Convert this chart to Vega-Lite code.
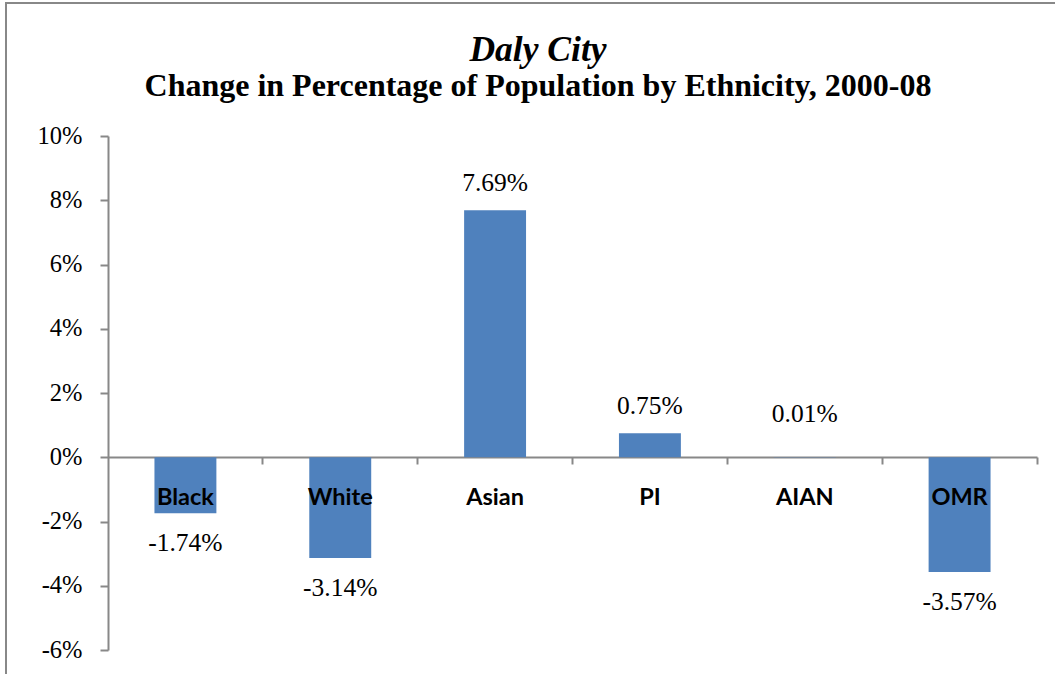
{
  "$schema": "https://vega.github.io/schema/vega-lite/v6.json",
  "width": 1060,
  "height": 680,
  "autosize": {"type": "none"},
  "padding": {"left": 6, "top": 3, "right": 0, "bottom": 0},
  "background": "white",
  "config": {
    "font": "Liberation Serif",
    "view": {"stroke": "#888888", "strokeWidth": 2},
    "locale": {"number": {"decimal": ".", "thousands": ",", "grouping": [3], "currency": ["$", ""], "minus": "-"}}
  },
  "title": {
    "text": "Daly City",
    "subtitle": "Change in Percentage of Population by Ethnicity, 2000-08",
    "anchor": "start",
    "frame": "group",
    "offset": -99,
    "dx": 532,
    "align": "center",
    "font": "Liberation Serif",
    "fontSize": 35.5,
    "fontStyle": "italic",
    "fontWeight": "bold",
    "color": "black",
    "subtitleFont": "Liberation Serif",
    "subtitleFontSize": 32,
    "subtitleFontWeight": "bold",
    "subtitleColor": "black",
    "subtitlePadding": 3
  },
  "data": {
    "values": [
      {"group": "Black", "value": -0.0174},
      {"group": "White", "value": -0.0314},
      {"group": "Asian", "value": 0.0769},
      {"group": "PI", "value": 0.0075},
      {"group": "AIAN", "value": 0.0001},
      {"group": "OMR", "value": -0.0357}
    ]
  },
  "encoding": {
    "x": {
      "field": "group",
      "type": "nominal",
      "sort": null,
      "scale": {"range": [102, 1031], "paddingInner": 0, "paddingOuter": 0},
      "axis": {
        "title": null,
        "labels": false,
        "orient": "bottom",
        "offset": -226,
        "bandPosition": 1,
        "domainColor": "#888888",
        "domainWidth": 2,
        "tickColor": "#888888",
        "tickWidth": 2,
        "tickSize": 7
      }
    },
    "y": {
      "field": "value",
      "type": "quantitative",
      "scale": {"domain": [-0.06, 0.1], "range": [647, 133], "nice": false, "zero": false},
      "axis": {
        "title": null,
        "format": ".0%",
        "values": [-0.06, -0.04, -0.02, 0, 0.02, 0.04, 0.06, 0.08, 0.1],
        "offset": -102,
        "grid": false,
        "domainColor": "#888888",
        "domainWidth": 2,
        "tickColor": "#888888",
        "tickWidth": 2,
        "tickSize": 8,
        "labelFont": "Liberation Serif",
        "labelFontSize": 24.5,
        "labelColor": "black",
        "labelPadding": 18
      }
    }
  },
  "layer": [
    {
      "mark": {"type": "bar", "color": "#4F81BD", "width": {"band": 0.4}},
      "encoding": {"y2": {"datum": 0}}
    },
    {
      "mark": {"type": "text", "font": "Lato", "fontWeight": "bold", "fontSize": 23.5, "color": "black", "baseline": "middle", "dy": 41},
      "encoding": {"y": {"datum": 0}, "text": {"field": "group"}}
    },
    {
      "transform": [{"filter": "datum.value >= 0.001"}],
      "mark": {"type": "text", "font": "Liberation Serif", "fontSize": 25.5, "color": "black", "baseline": "middle", "dy": -27},
      "encoding": {"text": {"field": "value", "format": ".2%"}}
    },
    {
      "transform": [{"filter": "datum.value >= 0 && datum.value < 0.001"}],
      "mark": {"type": "text", "font": "Liberation Serif", "fontSize": 25.5, "color": "black", "baseline": "middle", "dy": -43},
      "encoding": {"text": {"field": "value", "format": ".2%"}}
    },
    {
      "transform": [{"filter": "datum.value < 0"}],
      "mark": {"type": "text", "font": "Liberation Serif", "fontSize": 25.5, "color": "black", "baseline": "middle", "dy": 30},
      "encoding": {"text": {"field": "value", "format": ".2%"}}
    }
  ]
}
